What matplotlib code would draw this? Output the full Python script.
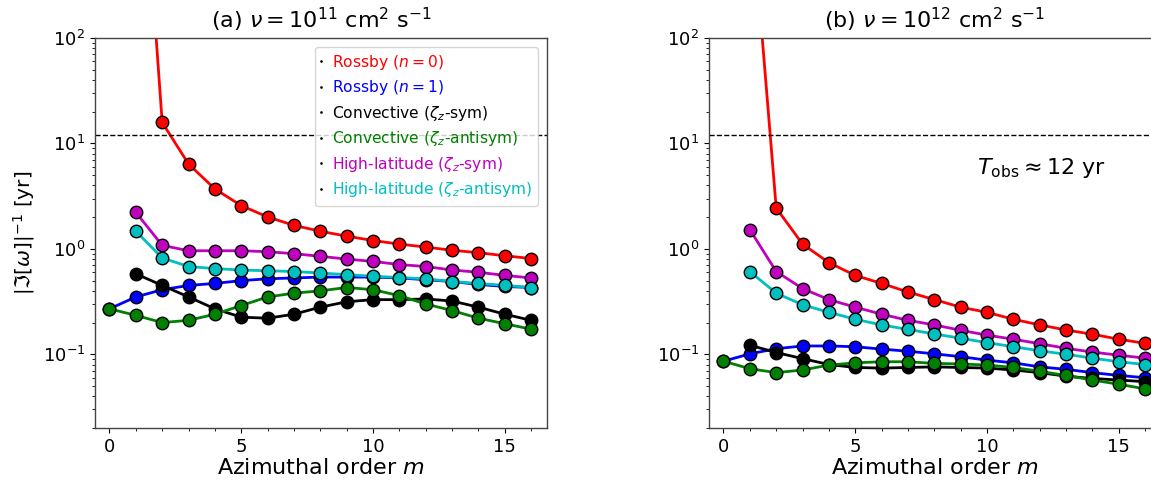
import numpy as np
import matplotlib
matplotlib.use('Agg')
import matplotlib.pyplot as plt
from matplotlib.ticker import MultipleLocator

plt.rc('font', size=13)
plt.rc('xtick', labelsize=13)
plt.rc('ytick', labelsize=13)
plt.rc('axes', linewidth=1.0, edgecolor='#444444')

m_all = np.arange(0, 17)
m_one = np.arange(1, 17)

# panel (a): nu = 1e11
a_rossby0 = [5e4, 15.8, 6.38, 3.70, 2.57, 2.01, 1.67, 1.47, 1.32, 1.20, 1.11, 1.04, 0.97, 0.92, 0.86, 0.81]
a_rossby1 = [0.27, 0.35, 0.41, 0.45, 0.47, 0.50, 0.52, 0.53, 0.54, 0.54, 0.54, 0.53, 0.51, 0.49, 0.46, 0.44, 0.43]
a_conv_sym = [0.58, 0.45, 0.35, 0.27, 0.225, 0.22, 0.24, 0.28, 0.315, 0.33, 0.33, 0.335, 0.32, 0.28, 0.24, 0.21]
a_conv_anti = [0.27, 0.234, 0.20, 0.21, 0.24, 0.29, 0.35, 0.38, 0.40, 0.43, 0.41, 0.36, 0.30, 0.26, 0.22, 0.195, 0.173]
a_hl_sym = [2.22, 1.08, 0.96, 0.96, 0.96, 0.94, 0.90, 0.85, 0.80, 0.76, 0.71, 0.68, 0.63, 0.60, 0.56, 0.53]
a_hl_anti = [1.47, 0.82, 0.68, 0.65, 0.63, 0.62, 0.61, 0.59, 0.57, 0.55, 0.535, 0.52, 0.49, 0.47, 0.45, 0.43]

# panel (b): nu = 1e12
b_rossby0 = [2700, 2.44, 1.11, 0.74, 0.56, 0.47, 0.39, 0.33, 0.28, 0.25, 0.215, 0.19, 0.17, 0.155, 0.139, 0.127]
b_rossby1 = [0.086, 0.101, 0.113, 0.12, 0.12, 0.118, 0.112, 0.107, 0.101, 0.095, 0.088, 0.083, 0.076, 0.072, 0.067, 0.063, 0.060]
b_conv_sym = [0.122, 0.104, 0.091, 0.080, 0.075, 0.074, 0.075, 0.076, 0.075, 0.074, 0.071, 0.067, 0.062, 0.059, 0.057, 0.055]
b_conv_anti = [0.086, 0.073, 0.067, 0.071, 0.079, 0.083, 0.085, 0.085, 0.082, 0.081, 0.079, 0.075, 0.069, 0.063, 0.057, 0.052, 0.047]
b_hl_sym = [1.52, 0.61, 0.42, 0.33, 0.28, 0.24, 0.21, 0.19, 0.169, 0.152, 0.139, 0.126, 0.114, 0.105, 0.098, 0.092]
b_hl_anti = [0.61, 0.38, 0.295, 0.25, 0.215, 0.19, 0.172, 0.156, 0.142, 0.129, 0.118, 0.108, 0.100, 0.092, 0.085, 0.080]

labels = [r'Rossby ($n=0$)', r'Rossby ($n=1$)', r'Convective ($\zeta_z$-sym)',
          r'Convective ($\zeta_z$-antisym)', r'High-latitude ($\zeta_z$-sym)',
          r'High-latitude ($\zeta_z$-antisym)']
colors = ['r', 'b', 'k', 'g', 'm', 'c']
T_obs = 12.0

fig = plt.figure(figsize=(11.51, 4.83), dpi=100)
ax1 = fig.add_axes([95/1151, 55/483, 452/1151, 390/483])
ax2 = fig.add_axes([709/1151, 55/483, 452/1151, 390/483])


def draw(ax, data):
  lines = []
  for (mm, vals), c, lab in zip(data, colors, labels):
    l, = ax.plot(mm, vals, '-o', color=c, lw=2, ms=9, mec='k', mew=1, label=lab)
    lines.append(l)
  ax.axhline(T_obs, color='k', ls='--', lw=1)
  ax.set_yscale('log')
  ax.set_ylim(0.02, 100)
  ax.set_xlim(-0.55, 16.6)
  ax.xaxis.set_major_locator(MultipleLocator(5))
  ax.xaxis.set_minor_locator(MultipleLocator(1))
  ax.set_xlabel(r'Azimuthal order $m$', fontsize=16, labelpad=2)
  return lines


lines = draw(ax1, [(m_one, a_rossby0), (m_all, a_rossby1), (m_one, a_conv_sym),
                   (m_all, a_conv_anti), (m_one, a_hl_sym), (m_one, a_hl_anti)])
draw(ax2, [(m_one, b_rossby0), (m_all, b_rossby1), (m_one, b_conv_sym),
           (m_all, b_conv_anti), (m_one, b_hl_sym), (m_one, b_hl_anti)])

ax1.set_ylabel(r'$|\Im[\omega]|^{-1}$ [yr]', fontsize=14.5)
ax1.set_title(r'(a) $\nu = 10^{11}$ cm$^2$ s$^{-1}$', fontsize=16, pad=7)
ax2.set_title(r'(b) $\nu = 10^{12}$ cm$^2$ s$^{-1}$', fontsize=16, pad=7)
ax2.text(9.6, 5.9, r'$T_{\rm obs} \approx 12$ yr', fontsize=16, va='center')

leg = ax1.legend(loc='upper right', fontsize=11.2, handlelength=0, markerscale=0.1,
                 handletextpad=0.7, borderaxespad=0.55, labelspacing=0.42)
for txt, c in zip(leg.get_texts(), colors):
  txt.set_color(c)

fig.savefig('out.png', dpi=100)
